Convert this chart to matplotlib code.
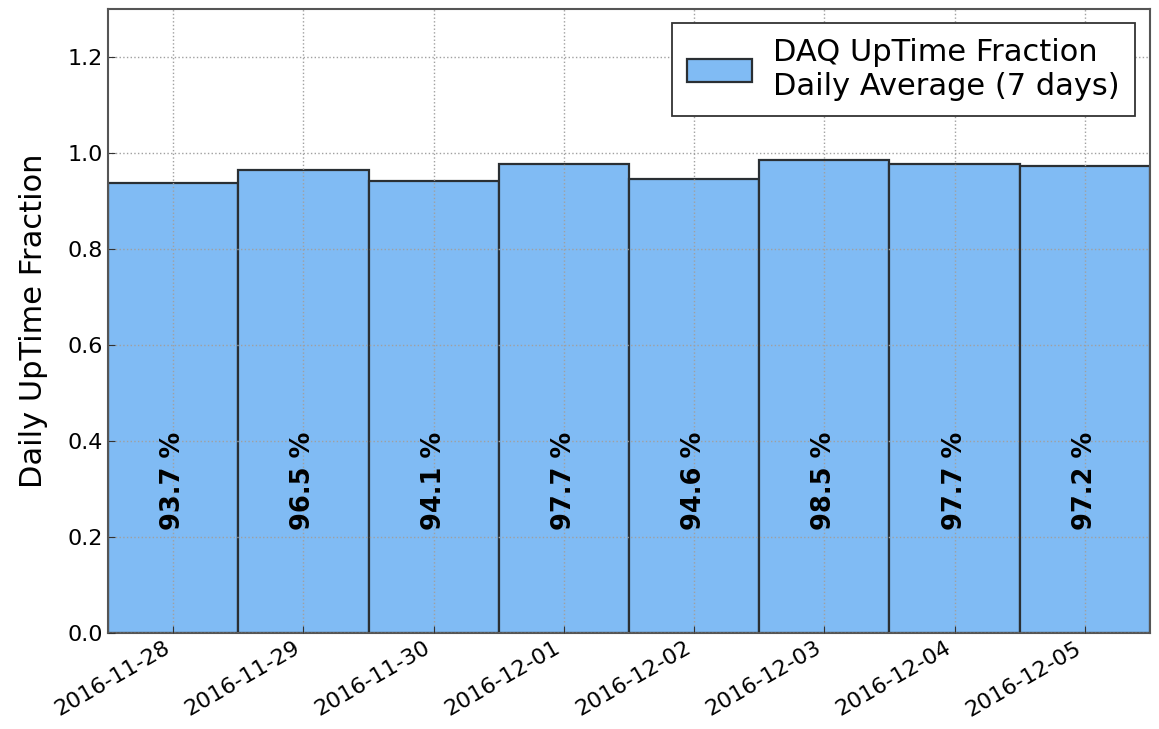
import matplotlib
matplotlib.use("Agg")
import matplotlib.pyplot as plt
import matplotlib.dates as mdates
import numpy as np
import datetime as dt

dates = ["2016-11-28", "2016-11-29", "2016-11-30", "2016-12-01",
         "2016-12-02", "2016-12-03", "2016-12-04", "2016-12-05"]
uptime = [0.937, 0.965, 0.941, 0.977, 0.946, 0.985, 0.977, 0.972]
labels = ["93.7 %", "96.5 %", "94.1 %", "97.7 %", "94.6 %", "98.5 %", "97.7 %", "97.2 %"]
legend_label = "DAQ UpTime Fraction\nDaily Average (7 days)"

x = [mdates.date2num(dt.datetime.strptime(d, "%Y-%m-%d")) for d in dates]

fig = plt.figure(figsize=(11.59, 7.29), dpi=100)
ax = fig.add_axes([0.0932, 0.1317, 0.899, 0.856])

ax.bar(x, uptime, width=1.0, align="center", color="#80bbf4",
       edgecolor="#2a2f33", linewidth=1.6, label=legend_label, zorder=2)

for xi, lab in zip(x, labels):
    ax.text(xi, 0.317, lab, rotation=90, ha="center", va="center",
            fontsize=18.5, fontweight="bold", color="black", zorder=3)

ax.set_xlim(x[0] - 0.5, x[-1] + 0.5)
ax.set_ylim(0, 1.3)
ax.set_yticks([0.0, 0.2, 0.4, 0.6, 0.8, 1.0, 1.2])
ax.yaxis.set_major_formatter(matplotlib.ticker.FormatStrFormatter("%.1f"))
ax.set_xticks(x)
ax.set_xticklabels(dates, rotation=30, ha="right", fontsize=16)
ax.tick_params(axis="y", labelsize=16)
ax.tick_params(direction="in", length=5, color="#333333")
ax.tick_params(axis="x", length=5)
ax.set_ylabel("Daily UpTime Fraction", fontsize=22)
ax.yaxis.set_label_coords(-0.058, 0.5)

ax.grid(True, linestyle=":", color="#a0a0a0", linewidth=1.0, zorder=2.5)
ax.set_axisbelow(False)
for s in ax.spines.values():
    s.set_color("#555555")
    s.set_linewidth(1.5)

leg = ax.legend(loc="upper right", fontsize=22, fancybox=False, framealpha=1,
                edgecolor="#333333", handlelength=2.1, handleheight=0.75,
                handletextpad=0.7, borderpad=0.5, borderaxespad=0,
                labelspacing=0.35,
                bbox_to_anchor=(0.9856, 0.9776))
leg.get_frame().set_linewidth(1.3)

fig.savefig("out.png", dpi=100)
